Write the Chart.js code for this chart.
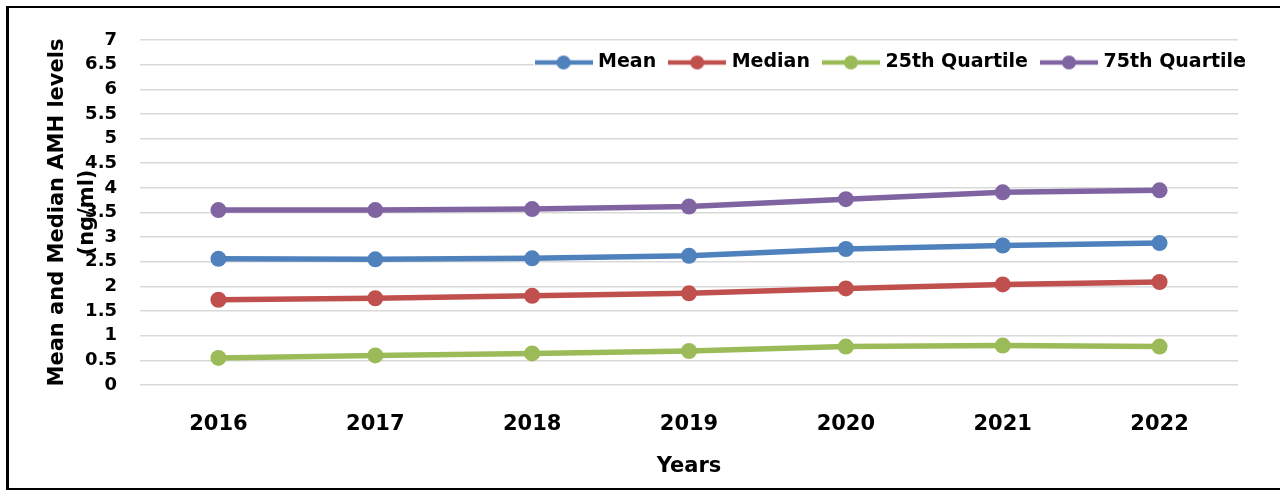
<!DOCTYPE html>
<html>
<head>
<meta charset="utf-8">
<title>AMH levels by year</title>
<script src="https://cdn.jsdelivr.net/npm/chart.js@4"></script>
<style>
  html, body { margin: 0; padding: 0; background: #fff; overflow: hidden; }
  #wrap { position: absolute; left: 0; top: 0; width: 1280px; height: 492px; }
</style>
</head>
<body>
<div id="wrap"><canvas id="amhChart"></canvas></div>
<script>
// AMH levels (ng/ml) per year
const years = ['2016', '2017', '2018', '2019', '2020', '2021', '2022'];
const meanVals = [2.56, 2.55, 2.57, 2.62, 2.76, 2.83, 2.88];
const medianVals = [1.73, 1.76, 1.81, 1.86, 1.96, 2.04, 2.09];
const q25Vals = [0.55, 0.60, 0.64, 0.69, 0.78, 0.80, 0.78];
const q75Vals = [3.55, 3.55, 3.57, 3.62, 3.77, 3.91, 3.95];
const seriesNames = ['Mean', 'Median', '25th Quartile', '75th Quartile'];
const seriesColors = ['#4F81BD', '#C0504D', '#9BBB59', '#8064A2'];

const FONT = "'DejaVu Sans', sans-serif";

// legend marker: short line with a dot in the middle
function lineMarker(color) {
  const c = document.createElement('canvas');
  c.width = 58; c.height = 16;
  const g = c.getContext('2d');
  g.strokeStyle = color; g.lineWidth = 4.5;
  g.beginPath(); g.moveTo(0, 8); g.lineTo(58, 8); g.stroke();
  g.fillStyle = color;
  g.beginPath(); g.arc(29, 8, 7, 0, Math.PI * 2); g.fill();
  return c;
}

// move the legend down into the plot and paint it over the grid
const legendOverlay = {
  id: 'legendOverlay',
  afterLayout(chart) {
    const lg = chart.legend;
    lg.right = 1262;
    lg.top = 37;
    lg.bottom = 95;
  },
  beforeDatasetsDraw(chart) {
    const ctx = chart.ctx;
    ctx.save();
    ctx.fillStyle = '#fff';
    ctx.fillRect(534, 49, 706, 28);
    ctx.restore();
    chart.legend.draw();
  }
};

// open frame: left, top and bottom rules
const frameLines = {
  id: 'frameLines',
  afterDraw(chart) {
    const ctx = chart.ctx;
    ctx.save();
    ctx.fillStyle = '#000';
    ctx.fillRect(6, 6, 3, 484);
    ctx.fillRect(6, 6, 1274, 2);
    ctx.fillRect(6, 488, 1274, 2);
    ctx.restore();
  }
};

const datasets = [meanVals, medianVals, q25Vals, q75Vals].map((vals, i) => ({
  label: seriesNames[i],
  data: vals,
  borderColor: seriesColors[i],
  backgroundColor: seriesColors[i],
  borderWidth: 5.5,
  pointRadius: 8,
  pointHoverRadius: 8,
  pointBorderWidth: 0,
  tension: 0
}));

new Chart(document.getElementById('amhChart'), {
  type: 'line',
  data: { labels: years, datasets },
  plugins: [legendOverlay, frameLines],
  options: {
    responsive: true,
    maintainAspectRatio: false,
    animation: false,
    // pull the top legend up so the plot still starts near y=39
    layout: { padding: { left: 0, right: 42, top: -5, bottom: 0 } },
    plugins: {
      tooltip: { enabled: false },
      legend: {
        position: 'top',
        align: 'end',
        labels: {
          color: '#000',
          font: { family: FONT, size: 19, weight: 'bold' },
          usePointStyle: true,
          pointStyleWidth: 50,
          boxHeight: 16,
          padding: 16,
          generateLabels(chart) {
            const items = Chart.defaults.plugins.legend.labels.generateLabels(chart);
            items.forEach((it, i) => { it.pointStyle = lineMarker(seriesColors[i]); });
            return items;
          }
        }
      }
    },
    scales: {
      x: {
        offset: true,
        grid: { display: false, drawTicks: false },
        border: { display: false },
        ticks: { color: '#000', padding: 27, font: { family: FONT, size: 21, weight: 'bold' } },
        title: {
          display: true,
          text: 'Years',
          color: '#000',
          font: { family: FONT, size: 21, weight: 'bold' },
          padding: { top: 0, bottom: 13 }
        },
        afterFit(s) { s.height = 107; }
      },
      y: {
        min: 0,
        max: 7,
        ticks: {
          stepSize: 0.5,
          color: '#000',
          padding: 23,
          font: { family: FONT, size: 18, weight: 'bold' },
          callback: v => String(v)
        },
        grid: { color: '#d9d9d9', lineWidth: 1.5, drawTicks: false },
        border: { display: false },
        title: {
          display: true,
          text: ['Mean and Median AMH levels', '(ng/ml)'],
          color: '#000',
          font: { family: FONT, size: 21, weight: 'bold', lineHeight: 1.45 },
          padding: { top: 42, bottom: 0 }
        },
        afterFit(s) { s.width = 140; }
      }
    }
  }
});
</script>
</body>
</html>
